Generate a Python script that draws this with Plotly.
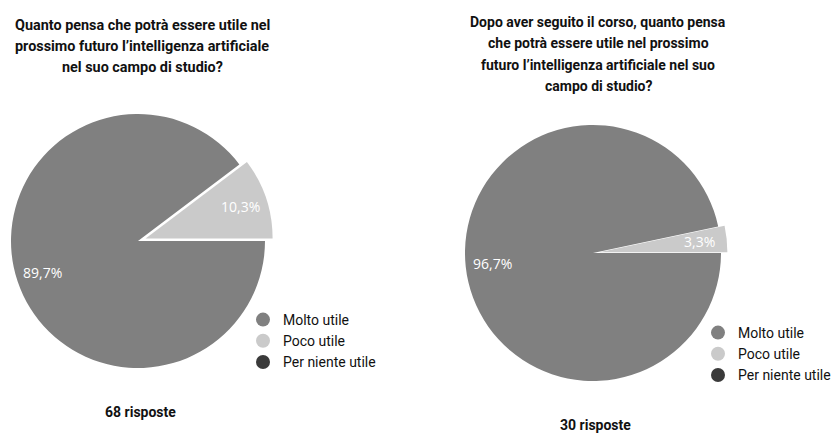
import math
import plotly.graph_objects as go

# ---- data ----
categories = ["Molto utile", "Poco utile", "Per niente utile"]
colors = ["#808080", "#cacaca", "#3a3a3a"]
before_counts = [61, 7, 0]   # 68 risposte -> 89,7% / 10,3% / 0%
after_counts = [29, 1, 0]    # 30 risposte -> 96,7% / 3,3% / 0%
before_title = ["Quanto pensa che potrà essere utile nel",
                "prossimo futuro l’intelligenza artificiale",
                "nel suo campo di studio?"]
after_title = ["Dopo aver seguito il corso, quanto pensa",
               "che potrà essere utile nel prossimo",
               "futuro l’intelligenza artificiale nel suo",
               "campo di studio?"]
before_n = "68 risposte"
after_n = "30 risposte"

W, H = 834, 434
TITLE_FONT = "Roboto, Liberation Sans, sans-serif"
LEGEND_FONT = "Roboto, Liberation Sans, sans-serif"
LABEL_FONT = "Open Sans, Noto Sans, sans-serif"
ROTATION = 90

# pie geometry (layout, pixels)
PIES = [
    dict(counts=before_counts, cx=138, cy=241, r=127, pull=[0, 0.063, 0],
         title=before_title, tx=142, ty0=25, tsize=14.4, n=before_n, nx=140, ny=412,
         leg_x=243, leg_y=304),
    dict(counts=after_counts, cx=593, cy=253, r=128, pull=[0, 0.05, 0],
         title=after_title, tx=598, ty0=22, tsize=14, n=after_n, nx=595, ny=425,
         leg_x=698, leg_y=317),
]
LINE_GAP = 21.3
LABEL_R = 0.79


def px_dom(cx, cy, half):
    return dict(x=[(cx - half) / W, (cx + half) / W],
                y=[(H - cy - half) / H, (H - cy + half) / H])


def fmt_pct(p):
    return f"{p:.1f}".replace(".", ",") + "%"


fig = go.Figure()
annotations = []

for k, p in enumerate(PIES):
    maxpull = max(p["pull"])
    fig.add_trace(go.Pie(
        labels=categories, values=p["counts"], sort=False,
        direction="clockwise", rotation=ROTATION,
        pull=p["pull"],
        marker=dict(colors=colors, line=dict(width=0)),
        textinfo="none",
        showlegend=False, hoverinfo="label+percent",
        domain=px_dom(p["cx"], p["cy"], p["r"] * (1 + maxpull)),
    ))
    # percentage labels placed along each slice's mid-angle
    total = sum(p["counts"])
    cum = 0
    for v, pl in zip(p["counts"], p["pull"]):
        if v > 0:
            a = math.radians(ROTATION + (cum + v / 2) * 360 / total)
            d = (LABEL_R + pl) * p["r"]
            x = p["cx"] + d * math.sin(a)
            y = p["cy"] - d * math.cos(a)
            annotations.append(dict(
                text=fmt_pct(100 * v / total), x=x / W, y=(H - y) / H,
                xref="paper", yref="paper", xanchor="center", yanchor="middle",
                showarrow=False,
                font=dict(family=LABEL_FONT, size=14, color="white")))
        cum += v
    title_font = dict(family=TITLE_FONT, size=p["tsize"], color="#111111", weight="bold")
    # title lines
    for i, line in enumerate(p["title"]):
        annotations.append(dict(
            text=line, x=p["tx"] / W, y=(H - (p["ty0"] + i * LINE_GAP)) / H,
            xref="paper", yref="paper", xanchor="center", yanchor="middle",
            showarrow=False, font=title_font))
    annotations.append(dict(
        text=p["n"], x=p["nx"] / W, y=(H - p["ny"]) / H,
        xref="paper", yref="paper", xanchor="center", yanchor="middle",
        showarrow=False,
        font=dict(family=TITLE_FONT, size=14, color="#111111", weight="bold")))

# legend entries (circle markers)
for lg in ["legend", "legend2"]:
    for name, col in zip(categories, colors):
        fig.add_trace(go.Scatter(
            x=[None], y=[None], mode="markers", name=name,
            marker=dict(color=col, size=14, symbol="circle"),
            legend=lg, showlegend=True, hoverinfo="skip",
        ))

legend_common = dict(
    font=dict(family=LEGEND_FONT, size=14, color="#111111"),
    bgcolor="rgba(0,0,0,0)", borderwidth=0,
    xanchor="left", yanchor="top", tracegroupgap=0,
    itemsizing="trace",
)

fig.update_layout(
    width=W, height=H,
    margin=dict(l=0, r=0, t=0, b=0, autoexpand=False),
    paper_bgcolor="white", plot_bgcolor="white",
    xaxis=dict(visible=False), yaxis=dict(visible=False),
    legend=dict(x=PIES[0]["leg_x"] / W, y=(H - PIES[0]["leg_y"]) / H, **legend_common),
    legend2=dict(x=PIES[1]["leg_x"] / W, y=(H - PIES[1]["leg_y"]) / H, **legend_common),
    annotations=annotations,
)

fig.write_html("out.html")
